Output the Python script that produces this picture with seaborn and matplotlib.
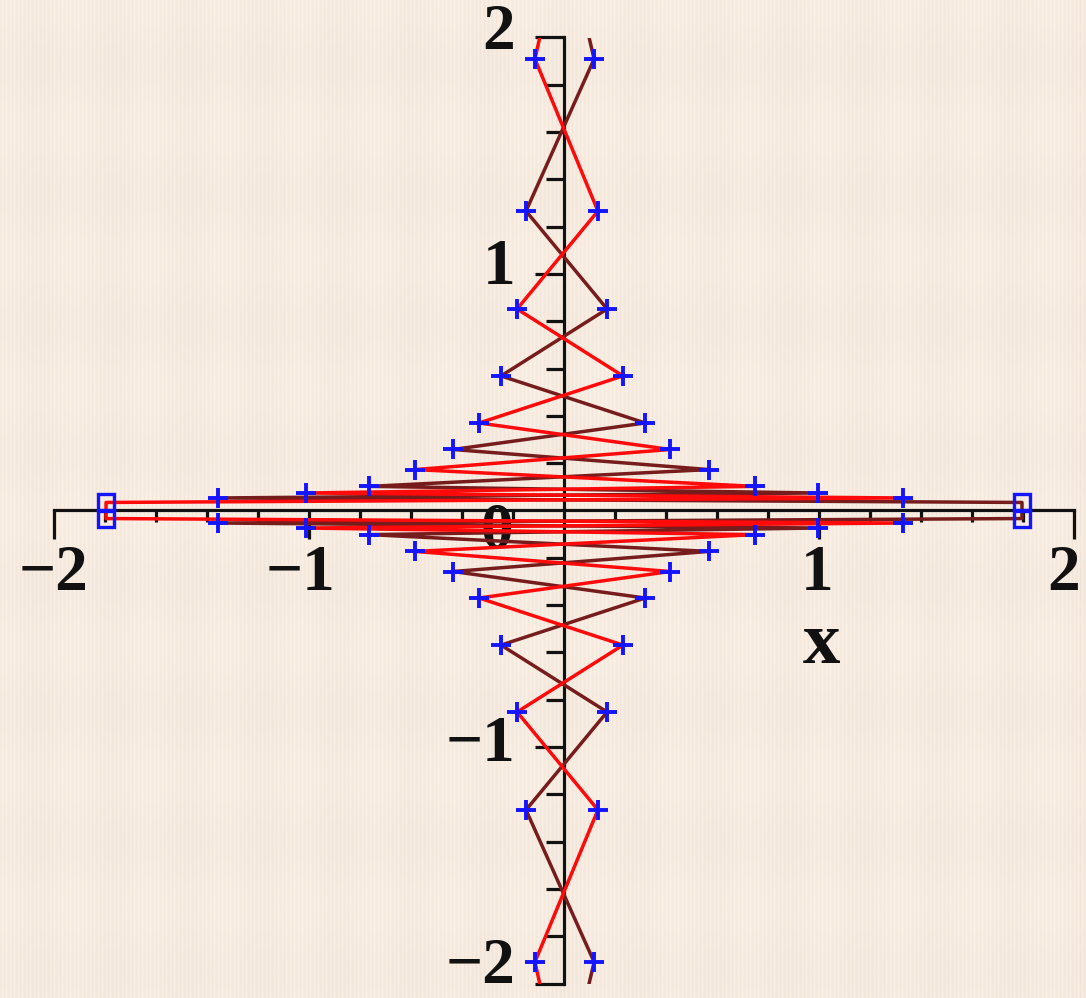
import numpy as np
import pandas as pd
import matplotlib
matplotlib.use("Agg")
import matplotlib.pyplot as plt
import seaborn as sns
from matplotlib.ticker import FixedLocator, NullFormatter

# Heights of the orbit points in the upper half (the lower half mirrors them).
# The first entry is the point just above the view, where both chains come in.
level_y = [2.86, 1.909, 1.266, 0.852, 0.569, 0.370, 0.258, 0.173, 0.102, 0.074, 0.053, 0.034]
# Horizontal position of the point at each level, left and right of the y-axis
left_x = [-0.085, -0.112, -0.147, -0.182, -0.245, -0.331, -0.433, -0.582, -0.761, -1.010, -1.355, -1.794]
right_x = [0.085, 0.120, 0.135, 0.171, 0.233, 0.320, 0.418, 0.571, 0.751, 0.998, 1.331, 1.798]

x_ticks = [-2, -1, 1, 2]
y_ticks = [-2, -1, 1, 2]

RED = "#ff0a0a"
DARK = "#761c1c"
BLUE = "#1414ff"


def chain(start_left):
    """Points hop from side to side while closing in on the x-axis,
    then come back out again below it."""
    xs, ys = [], []
    n = len(level_y)
    for k in range(n):
        on_left = (k % 2 == 1) if start_left else (k % 2 == 0)
        xs.append(left_x[k] if on_left else right_x[k])
        ys.append(level_y[k])
    upper = pd.DataFrame({"x": xs, "y": ys})
    lower = pd.DataFrame({"x": xs[::-1], "y": [-v for v in ys[::-1]]})
    return pd.concat([upper, lower], ignore_index=True)


red_path = chain(start_left=True)
dark_path = chain(start_left=False)

sns.set_theme(style="white")
plt.rcParams["font.family"] = ["Liberation Serif", "DejaVu Serif"]

fig = plt.figure(figsize=(10.86, 9.98), dpi=100)
W, H = 1086, 998

# Beige wallpaper with faint vertical stripes and a soft lattice
yy, xx = np.mgrid[0:H, 0:W]
base = np.array([250, 242, 232], dtype=float) / 255.0
stripe = 0.5 + 0.5 * np.cos(2 * np.pi * xx / 4.0)
soft = 0.5 + 0.5 * np.cos(2 * np.pi * (xx + 0.58 * yy) / 150.0) * np.cos(2 * np.pi * (xx - 0.58 * yy) / 150.0)
tex = np.empty((H, W, 3))
for c, amp in enumerate([0.012, 0.032, 0.048]):
    tex[..., c] = base[c] - amp * stripe - 0.018 * (1 - soft)
fig.figimage(np.clip(tex, 0, 1), xo=0, yo=0, zorder=-10, origin="upper")

ax = fig.add_axes([53.5 / W, 1 - 983.5 / H, 1020 / W, 946 / H])
ax.set_zorder(2)
ax.set_facecolor("none")
ax.patch.set_alpha(0)
ax.set_xlim(-2, 2)
ax.set_ylim(-2, 2)

# Axes through the origin
for side in ["top", "right"]:
    ax.spines[side].set_visible(False)
ax.spines["left"].set_position(("data", 0))
ax.spines["bottom"].set_position(("data", 0))
for side in ["left", "bottom"]:
    ax.spines[side].set_linewidth(2.3)
    ax.spines[side].set_color("#111111")
    ax.spines[side].set_zorder(1)

minor = [round(v, 1) for v in np.arange(-1.8, 1.81, 0.2) if abs(v) > 1e-9 and abs(v - round(v)) > 1e-9]
ax.xaxis.set_major_locator(FixedLocator(x_ticks))
ax.yaxis.set_major_locator(FixedLocator(y_ticks))
ax.xaxis.set_minor_locator(FixedLocator(minor))
ax.yaxis.set_minor_locator(FixedLocator(minor))
ax.xaxis.set_major_formatter(NullFormatter())
ax.yaxis.set_major_formatter(NullFormatter())
ax.tick_params(axis="x", which="major", direction="out", length=21, width=2.3, color="#111111", bottom=True)
ax.tick_params(axis="x", which="minor", direction="out", length=8.5, width=2.3, color="#111111", bottom=True)
ax.tick_params(axis="y", which="major", direction="out", length=21, width=2.3, color="#111111", left=True)
ax.tick_params(axis="y", which="minor", direction="out", length=13, width=2.3, color="#111111", left=True)

label_font = dict(fontsize=47, fontweight="bold", color="#111111")


def num(v):
    return "\u2212" + str(abs(v)) if v < 0 else str(v)


# Tick labels
x_label_pos = {-2: -2.0, -1: -1.03, 1: 0.995, 2: 1.96}
for v in x_ticks:
    ax.text(x_label_pos[v], -0.27, num(v), ha="center", va="center",
            zorder=1, clip_on=False, **label_font)
y_label_pos = {2: 2.02, 1: 1.025, -1: -0.99, -2: -1.93}
for v in y_ticks:
    ax.text(-0.19, y_label_pos[v], num(v), ha="right", va="center",
            zorder=1, clip_on=False, **label_font)
ax.text(-0.26, -0.09, "0", ha="center", va="center", zorder=1, **label_font)
ax.text(1.01, -0.57, "x", ha="center", va="center", zorder=1, fontsize=54,
        fontweight="bold", color="#111111")

# The two orbits
sns.lineplot(data=dark_path, x="x", y="y", sort=False, estimator=None, color=DARK,
             linewidth=2.5, ax=ax, zorder=3)
sns.lineplot(data=red_path, x="x", y="y", sort=False, estimator=None, color=RED,
             linewidth=2.5, ax=ax, zorder=4)

# '+' markers at the inner points, boxes at the outermost ones
px, py = [], []
for k in range(1, len(level_y) - 1):
    for xv in (left_x[k], right_x[k]):
        for s in (1, -1):
            px.append(xv)
            py.append(s * level_y[k])
ax.plot(px, py, linestyle="none", marker="+", markersize=15, markeredgewidth=2.8,
        color=BLUE, zorder=5)
bx, by = [], []
for xv in (left_x[-1], right_x[-1]):
    for s in (1, -1):
        bx.append(xv)
        by.append(s * level_y[-1])
ax.plot(bx, by, linestyle="none", marker="s", markersize=11.5, markeredgewidth=2.4,
        markerfacecolor="none", markeredgecolor=BLUE, zorder=5)

ax.set_xlabel("")
ax.set_ylabel("")
fig.savefig("out.png", dpi=100)
